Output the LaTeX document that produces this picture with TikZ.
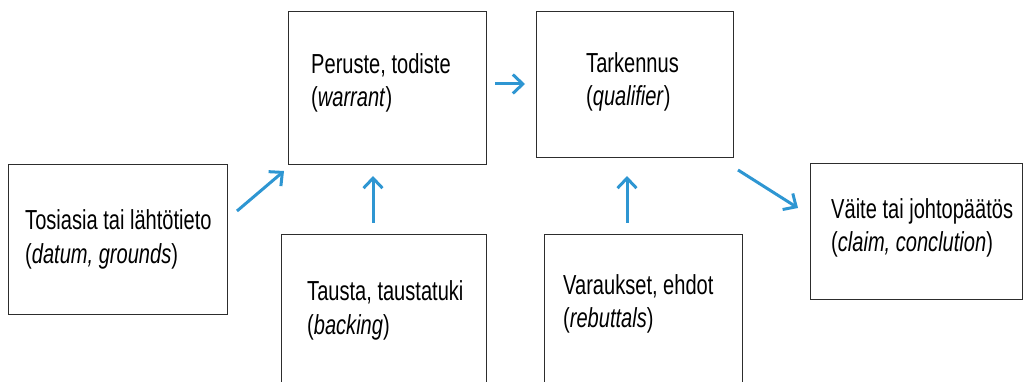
\documentclass[tikz,border=0pt]{standalone}
\usepackage{fontspec}
\setmainfont{Liberation Sans}[FakeStretch=0.73]
\usetikzlibrary{arrows.meta}
\definecolor{arrowblue}{RGB}{46,150,210}
\definecolor{boxline}{RGB}{45,45,45}
\tikzset{
  box/.style={draw=boxline, line width=1.2pt, rectangle, inner sep=0pt, anchor=north west},
  label/.style={anchor=base west, align=left, inner sep=0pt, font=\fontsize{27.5}{33}\selectfont},
  conn/.style={draw=arrowblue, line width=3pt, -{Straight Barb[length=10pt,width=19pt,line width=3pt]}}
}
\begin{document}
\begin{tikzpicture}[x=1pt,y=-1pt]
\useasboundingbox (0,0) rectangle (1023,382);
\clip (0,0) rectangle (1023,382);
% boxes
\node[box, minimum width=219pt, minimum height=150pt] (datum) at (8,164) {};
\node[box, minimum width=198pt, minimum height=153pt] (warrant) at (288,11) {};
\node[box, minimum width=197pt, minimum height=146pt] (qualifier) at (536,11) {};
\node[box, minimum width=212pt, minimum height=136pt] (claim) at (810,163) {};
\node[box, minimum width=205pt, minimum height=170pt] (backing) at (281,234) {};
\node[box, minimum width=198pt, minimum height=170pt] (rebuttals) at (544,234) {};
% texts (anchor = baseline of the last line)
\node[label] (tdatum) at (25,263) {Tosiasia tai lähtötieto\\(\textit{datum, grounds})};
\node[label] (twarrant) at (311,107) {Peruste, todiste\\(\textit{warrant})};
\node[label] (tqualifier) at (586,106) {Tarkennus\\(\textit{qualifier})};
\node[label] (tclaim) at (831,252) {Väite tai johtopäätös\\(\textit{claim, conclution})};
\node[label] (tbacking) at (307,334) {Tausta, taustatuki\\(\textit{backing})};
\node[label] (trebuttals) at (563,327) {Varaukset, ehdot\\(\textit{rebuttals})};
% connector end points
\coordinate (a1s) at (237,211); \coordinate (a1e) at (284,171);
\coordinate (a2s) at (373,223); \coordinate (a2e) at (373,176);
\coordinate (a3s) at (495,84);  \coordinate (a3e) at (525,84);
\coordinate (a4s) at (738,170); \coordinate (a4e) at (798,208);
\coordinate (a5s) at (627,223); \coordinate (a5e) at (627,176);
\draw[conn] (a1s) -- (a1e);
\draw[conn] (a2s) -- (a2e);
\draw[conn] (a3s) -- (a3e);
\draw[conn] (a4s) -- (a4e);
\draw[conn] (a5s) -- (a5e);
\end{tikzpicture}
\end{document}
